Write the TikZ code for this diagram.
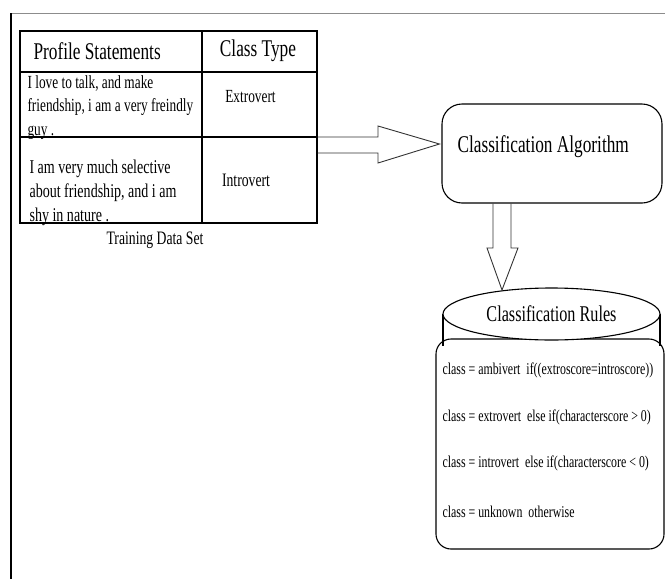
\documentclass[tikz,border=0pt]{standalone}
\usepackage{fontspec}
\setmainfont{Liberation Serif}[FakeStretch=0.72]
\usepackage{tikz}
\usetikzlibrary{calc}
\usetikzlibrary{shapes.geometric}

\tikzset{
        txt/.style = {inner sep = 0pt, font = \fontsize{#1}{#1}\selectfont},
        blockarrow/.style = {draw = black!80, line width = 0.9pt, line join = miter}
}

\begin{document}
\begin{tikzpicture}[x = 1pt, y = -1pt, line width = 1.1pt]
        \useasboundingbox (0,0) rectangle (665,579);
        \draw[color = black!45, line width = 1pt] (11,13) -- (665,13);
        \draw (11,13) -- (11,579);
        \node[draw, inner sep = 0pt, minimum width = 297pt, minimum height = 192pt] (tbl) at (168.5,127) {};
        \draw (20,72) -- (317,72);
        \draw (20,137) -- (317,137);
        \draw (202,31) -- (202,223);
        \node[txt = 24, anchor = west] (hdstmt) at (33,51) {Profile Statements};
        \node[txt = 24] (hdtype) at (258,51) {Class Type};
        \node[txt = 18.5, anchor = north west, align = left, font = \fontsize{18.5}{23.5}\selectfont] (stmtone) at (27,75) {I love to talk, and make\\friendship, i am a very freindly\\guy .};
        \node[txt = 18.5] (typeone) at (250.5,97) {Extrovert};
        \node[txt = 19.5, anchor = north west, align = left, font = \fontsize{19.5}{24}\selectfont] (stmttwo) at (29,159) {I am very much selective\\about friendship, and i am\\shy in nature .};
        \node[txt = 19] (typetwo) at (246,180) {Introvert};
        \node[txt = 19] (trainset) at (155,240) {Training Data Set};

        \node[draw, rounded corners = 20pt, minimum width = 220pt, minimum height = 99pt] (alg) at (552,153.5) {};
        \node[txt = 24, anchor = west] (algname) at (457,147) {Classification Algorithm};

        \node[draw, rounded corners = 15pt, minimum width = 228pt, minimum height = 210pt] (rbox) at (550,444) {};
        \draw (443,314) -- (443,346);
        \draw (660,314) -- (660,346);
        \node[draw, fill = white, ellipse, inner sep = 0pt, minimum width = 217pt, minimum height = 52pt, txt = 22.5] (rhead) at (551.5,314) {Classification Rules};
        \node[txt = 16.5, anchor = west] (ruleone) at (442,370) {class = ambivert\ \ if((extroscore=introscore))};
        \node[txt = 16.5, anchor = west] (ruletwo) at (442,417) {class = extrovert\ \ else if(characterscore > 0)};
        \node[txt = 16.5, anchor = west] (rulethree) at (442,463) {class = introvert\ \ else if(characterscore < 0)};
        \node[txt = 16.5, anchor = west] (rulefour) at (442,512) {class = unknown\ \ otherwise};

        \coordinate (tipr) at ($(alg.west)+(-2,-9.5)$);
        \draw[blockarrow] ($(tbl.east)+(0,10)$) -- (378,137) -- (378,126) -- (tipr) -- (378,163) -- (378,153) -- ($(tbl.east)+(0,26)$);
        \coordinate (tipd) at (502,290);
        \draw[blockarrow] ($(alg.south)+(-59,0)$) -- (493,248) -- (487,248) -- (tipd) -- (518,248) -- (511,248) -- ($(alg.south)+(-41,0)$);
\end{tikzpicture}
\end{document}
